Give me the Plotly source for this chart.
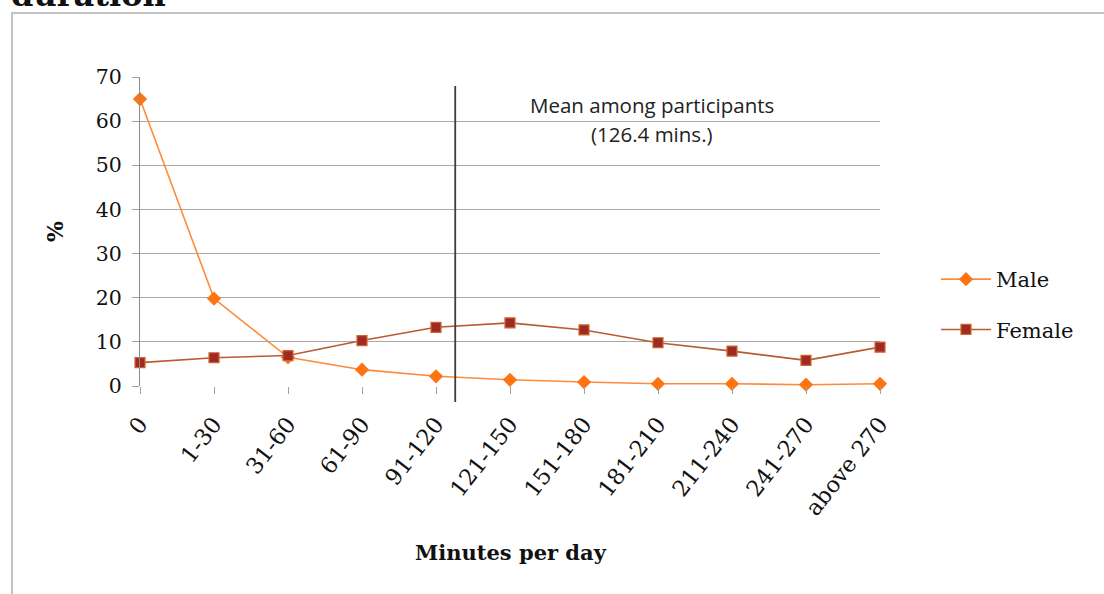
import plotly.graph_objects as go

# Share of participants (%) by daily minutes, split by gender
categories = ["0", "1-30", "31-60", "61-90", "91-120", "121-150",
              "151-180", "181-210", "211-240", "241-270", "above 270"]
male = [65.0, 19.8, 6.5, 3.7, 2.2, 1.4, 0.9, 0.5, 0.5, 0.3, 0.5]
female = [5.3, 6.4, 6.9, 10.3, 13.3, 14.3, 12.7, 9.8, 7.9, 5.8, 8.8]
y_ticks = [0, 10, 20, 30, 40, 50, 60, 70]

mean_line1 = "Mean among participants"
mean_line2 = "(126.4 mins.)"
mean_pos = 4.26  # category-axis position of the 126.4-minute mean

W, H = 1104, 594
L, R, T, B = 140, 880, 77, 386  # plot area in pixels


def px(x):
    return (x - L) / (R - L)


def py(y):
    return (B - y) / (B - T)


SERIF = "DejaVu Serif, Liberation Serif, serif"
SANS = "Open Sans, Lato, sans-serif"

xs = list(range(len(categories)))

fig = go.Figure()
fig.add_trace(go.Scatter(
    x=xs, y=male, name="Male", mode="lines+markers",
    line=dict(color="#FF8A3C", width=1.6),
    marker=dict(symbol="diamond", size=11, color="#FF7410",
                line=dict(color="#FF7410", width=0)),
    cliponaxis=False, legendgroup="m",
))
fig.add_trace(go.Scatter(
    x=xs, y=female, name="Female", mode="lines+markers",
    line=dict(color="#B85A32", width=1.6),
    marker=dict(symbol="square", size=10, color="#9E2A24",
                line=dict(color="#D0652E", width=1.2)),
    cliponaxis=False, legendgroup="f",
))

shapes = [
    # outer frame
    dict(type="rect", xref="paper", yref="paper",
         x0=px(12), x1=px(1112), y0=py(602), y1=py(13),
         line=dict(color="#C2C2C2", width=2), fillcolor="rgba(0,0,0,0)",
         layer="below"),
    # mean marker line
    dict(type="line", xref="x", yref="paper",
         x0=mean_pos, x1=mean_pos, y0=py(402), y1=py(86),
         line=dict(color="#3C3C3C", width=1.8)),
]

annotations = [
    dict(text=mean_line1, xref="paper", yref="paper",
         x=px(652), y=py(105), xanchor="center", yanchor="middle",
         showarrow=False,
         font=dict(family=SANS, size=20.5, color="#222222")),
    dict(text=mean_line2, xref="paper", yref="paper",
         x=px(652), y=py(134), xanchor="center", yanchor="middle",
         showarrow=False,
         font=dict(family=SANS, size=20.5, color="#222222")),
    dict(text="<b>Minutes per day</b>", xref="paper", yref="paper",
         x=px(511), y=py(552), xanchor="center", yanchor="middle",
         showarrow=False, font=dict(family=SERIF, size=21, color="#111111")),
    dict(text="<b>%</b>", xref="paper", yref="paper",
         x=px(55), y=py(232), xanchor="center", yanchor="middle",
         textangle=-90, showarrow=False,
         font=dict(family=SERIF, size=22, color="#111111")),
    dict(text="<b>duration</b>", xref="paper", yref="paper",
         x=px(9), y=py(16), xanchor="left", yanchor="bottom",
         showarrow=False, font=dict(family=SERIF, size=32, color="#111111")),
]

fig.update_layout(
    width=W, height=H,
    margin=dict(l=L, r=W - R, t=T, b=H - B, pad=0),
    paper_bgcolor="white", plot_bgcolor="white",
    showlegend=True,
    legend=dict(x=px(936), y=py(259), xanchor="left", yanchor="top",
                font=dict(family=SERIF, size=21, color="#111111"),
                tracegroupgap=20, itemwidth=50, bgcolor="rgba(0,0,0,0)"),
    shapes=shapes, annotations=annotations,
    xaxis=dict(
        range=[0, len(categories) - 1], tickmode="array", tickvals=xs,
        ticktext=categories, tickangle=-52, ticks="outside", ticklen=7,
        tickcolor="#A0A0A0", showgrid=False, zeroline=False,
        showline=False, ticklabelstandoff=8,
        tickfont=dict(family=SERIF, size=22.5, color="#111111"),
    ),
    yaxis=dict(
        range=[0, 70], tickmode="array", tickvals=y_ticks,
        ticks="outside", ticklen=7, tickcolor="#A0A0A0",
        showgrid=True, gridcolor="#A8A8A8", gridwidth=1,
        zeroline=False, showline=True, linecolor="#8C8C8C", linewidth=1,
        ticklabelstandoff=6,
        tickfont=dict(family=SERIF, size=20.5, color="#111111"),
    ),
)

fig.write_html("out.html")
